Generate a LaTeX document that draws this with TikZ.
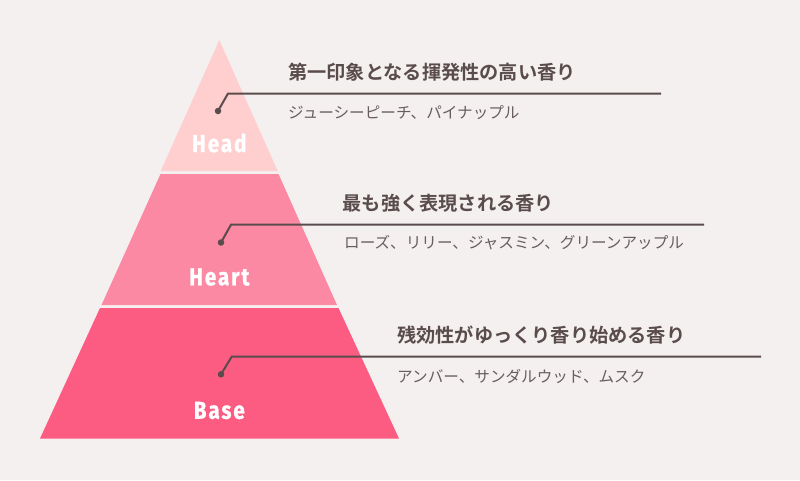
\documentclass[tikz,border=0pt]{standalone}
\usepackage{fontspec}
\setmainfont{Noto Sans CJK JP}[BoldFont={Noto Sans CJK JP Bold}]
\newfontfamily\layerfont[FakeStretch=0.84,LetterSpace=8,FakeBold=1]{Fira Sans Bold}
\definecolor{paper}{RGB}{244,240,239}
\definecolor{headpink}{RGB}{255,206,207}
\definecolor{heartpink}{RGB}{252,137,163}
\definecolor{basepink}{RGB}{253,92,130}
\definecolor{inkbrown}{RGB}{90,76,76}
\definecolor{notegray}{RGB}{104,94,94}

\begin{document}
\begin{tikzpicture}[x=1pt, y=-1pt,
	layer/.style={text=white, font=\layerfont\fontsize{24.5}{24.5}\selectfont, inner sep=0pt},
	title/.style={anchor=west, inner sep=0pt, text=inkbrown, font=\bfseries\fontsize{19.2}{19.2}\selectfont},
	note/.style={anchor=west, inner sep=0pt, text=notegray, font=\fontsize{15.6}{15.6}\selectfont},
	pin/.style={circle, fill=inkbrown, inner sep=0pt, minimum size=6.5pt},
	leader/.style={draw=inkbrown, line width=2pt}]

\useasboundingbox (0,0) rectangle (800,480);
\fill[paper] (0,0) rectangle (800,480);

% the three layers
\fill[headpink] (219.3,40)--(277.7,171)--(160.7,171)--cycle;
\fill[heartpink] (160.5,174)--(278.5,174)--(337,305)--(101.5,305)--cycle;
\fill[basepink] (100,308)--(338.5,308)--(399,438.5)--(40,438.5)--cycle;

\node[layer] (head) at (219.3,143) {Head};
\node[layer] (heart) at (219.3,277) {Heart};
\node[layer] (base) at (219.3,410.5) {Base};

% head notes
\node[pin] (headpin) at (218,111) {};
\coordinate (headbend) at (228,93.5);
\coordinate (headend) at (661,93.5);
\draw[leader] (headpin.center)--(headbend)--(headend);
\node[title] (headtitle) at (288,72) {第一印象となる揮発性の高い香り};
\node[note] (headnote) at (288,113) {ジューシーピーチ、パイナップル};

% heart notes
\node[pin] (heartpin) at (221,242.5) {};
\coordinate (heartbend) at (231,224.7);
\coordinate (heartend) at (704,224.7);
\draw[leader] (heartpin.center)--(heartbend)--(heartend);
\node[title] (hearttitle) at (342.5,203) {最も強く表現される香り};
\node[note] (heartnote) at (344,243) {ローズ、リリー、ジャスミン、グリーンアップル};

% base notes
\node[pin] (basepin) at (221,374.3) {};
\coordinate (basebend) at (231.7,356.7);
\coordinate (baseend) at (761,356.7);
\draw[leader] (basepin.center)--(basebend)--(baseend);
\node[title] (basetitle) at (397,335) {残効性がゆっくり香り始める香り};
\node[note] (basenote) at (397,376) {アンバー、サンダルウッド、ムスク};

\end{tikzpicture}
\end{document}
